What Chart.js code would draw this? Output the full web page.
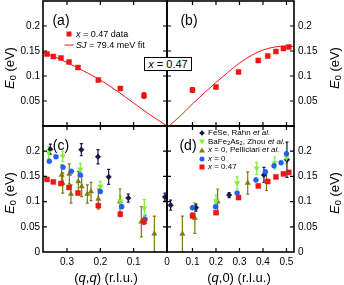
<!DOCTYPE html>
<html>
<head>
<meta charset="utf-8">
<script src="https://cdn.jsdelivr.net/npm/chart.js@4.4.0/dist/chart.umd.min.js"></script>
<style>
body { margin: 0; width: 344px; height: 285px; position: relative; overflow: hidden; background: #fff;
  font-family: "Liberation Sans", Arial, sans-serif; color: #000; }
canvas { position: absolute; }
.t { position: absolute; white-space: nowrap; line-height: 1; }
.c { transform: translate(-50%, -50%); }
.r { transform: translate(-50%, -50%) rotate(-90deg); }
.mk { position: absolute; transform: translate(-50%, -50%); }
sub { font-size: 70%; vertical-align: -0.25em; line-height: 0; }
</style>
</head>
<body>
<canvas id="pa" width="177" height="146" style="left:0;top:-10px"></canvas>
<canvas id="pb" width="187" height="146" style="left:157px;top:-10px"></canvas>
<canvas id="pc" width="177" height="169" style="left:0;top:116px"></canvas>
<canvas id="pd" width="187" height="169" style="left:157px;top:116px"></canvas>

<div class="t c" style="left:61px;top:20px;font-size:14px">(a)</div>
<div class="t c" style="left:189px;top:20px;font-size:14px">(b)</div>
<div class="t c" style="left:61px;top:145px;font-size:14px">(c)</div>
<div class="t c" style="left:188px;top:145px;font-size:14px">(d)</div>

<div class="t r" style="left:9px;top:68px;font-size:13px"><i>E</i><sub>0</sub> (eV)</div>
<div class="t r" style="left:9px;top:193px;font-size:13px"><i>E</i><sub>0</sub> (eV)</div>
<div class="t r" style="left:334px;top:68px;font-size:13px"><i>E</i><sub>0</sub> (eV)</div>
<div class="t r" style="left:334px;top:193px;font-size:13px"><i>E</i><sub>0</sub> (eV)</div>
<div class="t c" style="left:106px;top:277px;font-size:13px">(<i>q</i>,<i>q</i>) (r.l.u.)</div>
<div class="t c" style="left:239px;top:277px;font-size:13px">(<i>q</i>,0) (r.l.u.)</div>

<!-- legend (a) -->
<div class="mk" style="left:69px;top:34px;width:5px;height:5px;background:#f01414"></div>
<div class="t" style="left:76px;top:29.5px;font-size:9px"><i>x</i> = 0.47 data</div>
<div class="mk" style="left:68.5px;top:45px;width:9px;height:1px;background:#f01414"></div>
<div class="t" style="left:76px;top:40.5px;font-size:9px"><i>SJ</i> = 79.4 meV fit</div>

<!-- x = 0.47 box -->
<div class="t" style="left:144px;top:57px;width:46px;height:12px;border:1px solid #000;background:#fff;font-size:11px;text-align:center;line-height:12px"><i>x</i> = 0.47</div>

<!-- legend (d) -->
<div class="mk" style="left:202px;top:133px;width:4px;height:4px;background:#141a44;transform:translate(-50%,-50%) rotate(45deg)"></div>
<div class="t" style="left:208px;top:129px;font-size:8px">FeSe, Rahn <i>et al.</i></div>
<div class="mk" style="left:202px;top:141.5px;width:0;height:0;border-left:3px solid transparent;border-right:3px solid transparent;border-top:5px solid #7ef03a"></div>
<div class="t" style="left:208px;top:137.5px;font-size:8px">BaFe<sub>2</sub>As<sub>2</sub>, Zhou <i>et al.</i></div>
<div class="mk" style="left:202px;top:150px;width:0;height:0;border-left:3px solid transparent;border-right:3px solid transparent;border-bottom:5px solid #807a08"></div>
<div class="t" style="left:208px;top:146px;font-size:8px"><i>x</i> = 0, Pelliciari <i>et al.</i></div>
<div class="mk" style="left:202px;top:158.5px;width:5px;height:5px;border-radius:50%;background:#2060ff"></div>
<div class="t" style="left:208px;top:154.5px;font-size:8px"><i>x</i> = 0</div>
<div class="mk" style="left:202px;top:167px;width:5px;height:5px;background:#f01414"></div>
<div class="t" style="left:208px;top:163px;font-size:8px"><i>x</i> = 0.47</div>

<script>
// x = 0.47, this work
const qqX47 = [0.36, 0.341, 0.318, 0.294, 0.267, 0.206, 0.14, 0.069];
const eqqX47 = [0.144, 0.139, 0.136, 0.128, 0.117, 0.092, 0.075, 0.061];
const errqqX47 = [0.002, 0.002, 0.002, 0.002, 0.003, 0.003, 0.004, 0.006];
const q0X47 = [0.1, 0.2, 0.296, 0.38, 0.42, 0.455, 0.487, 0.51];
const e0X47 = [0.072, 0.078, 0.108, 0.131, 0.14, 0.149, 0.155, 0.158];
const err0X47 = [0.005, 0.003, 0.003, 0.003, 0.003, 0.002, 0.002, 0.002];

// x = 0
const qqX0 = [0.353, 0.333, 0.312, 0.287, 0.26, 0.2, 0.136, 0.066];
const eqqX0 = [0.18, 0.189, 0.168, 0.16, 0.153, 0.12, 0.09, 0.065];
const errqqX0 = [0.002, 0.002, 0.002, 0.002, 0.003, 0.003, 0.004, 0.008];
const q0X0 = [0.1, 0.198, 0.29, 0.37, 0.41, 0.447, 0.477, 0.5];
const e0X0 = [0.088, 0.09, 0.117, 0.143, 0.159, 0.171, 0.177, 0.195];
const err0X0 = [0.003, 0.003, 0.003, 0.003, 0.003, 0.003, 0.003, 0.004];

// FeSe, Rahn et al.
const qqFeSe = [0.35, 0.257, 0.207, 0.175, 0.116, 0.006];
const eqqFeSe = [0.204, 0.203, 0.189, 0.149, 0.107, 0.109];
const errqqFeSe = [0.01, 0.012, 0.014, 0.015, 0.008, 0.008];
const q0FeSe = [0.007, 0.115, 0.256, 0.404, 0.502];
const e0FeSe = [0.093, 0.088, 0.113, 0.153, 0.183];
const err0FeSe = [0.01, 0.007, 0.005, 0.015, 0.035];

// BaFe2As2, Zhou et al.
const qqBa = [0.355, 0.313, 0.26, 0.2, 0.14, 0.068];
const eqqBa = [0.197, 0.19, 0.164, 0.13, 0.101, 0.087];
const errqqBa = [0.012, 0.01, 0.012, 0.01, 0.01, 0.017];
const q0Ba = [0.2, 0.29, 0.373, 0.45, 0.5];
const e0Ba = [0.101, 0.137, 0.166, 0.177, 0.187];
const err0Ba = [0.012, 0.012, 0.012, 0.012, 0.012];

// x = 0, Pelliciari et al.
const qqPel = [0.316, 0.313, 0.293, 0.288, 0.266, 0.256, 0.239, 0.228, 0.206, 0.141, 0.077, 0.038];
const eqqPel = [0.153, 0.137, 0.155, 0.115, 0.14, 0.13, 0.115, 0.12, 0.105, 0.1, 0.06, 0.036];
const errqqPel = [0.02, 0.02, 0.02, 0.018, 0.02, 0.02, 0.018, 0.018, 0.02, 0.025, 0.03, 0.035];
const q0Pel = [0.057, 0.11, 0.207, 0.335, 0.415];
const e0Pel = [0.036, 0.067, 0.1, 0.137, 0.14];
const err0Pel = [0.035, 0.03, 0.025, 0.022, 0.018];

// SJ = 79.4 meV fit curves
const qqFitQ = [0, 0.05, 0.1, 0.15, 0.2, 0.25, 0.3, 0.35, 0.372];
const qqFitE = [0, 0.022, 0.046, 0.07, 0.092, 0.11, 0.127, 0.142, 0.147];
const q0FitQ = [0, 0.05, 0.1, 0.15, 0.2, 0.25, 0.3, 0.35, 0.4, 0.45, 0.5, 0.532];
const q0FitE = [0, 0.021, 0.044, 0.066, 0.087, 0.107, 0.126, 0.141, 0.152, 0.158, 0.16, 0.159];

const RED = '#f01414', BLUE = '#2060ff', NAVY = '#141a44', GREEN = '#7ef03a', OLIVE = '#807a08';

Chart.defaults.font.family = '"Liberation Sans", Arial, sans-serif';
Chart.defaults.font.size = 10;
Chart.defaults.color = '#000';

function pts(xs, ys) {
    return xs.map((v, i) => ({x: v, y: ys[i]}));
}

function marks(xs, ys, errs, color, style, radius, rot) {
    return {
        data: pts(xs, ys), errs: errs, errColor: color,
        pointStyle: style, pointRadius: radius, pointRotation: rot || 0,
        backgroundColor: color, borderColor: color, pointBorderWidth: 0.5, showLine: false
    };
}

function fitLine(xs, ys) {
    return {
        data: pts(xs, ys), showLine: true, pointRadius: 0, borderColor: RED, borderWidth: 1,
        cubicInterpolationMode: 'monotone'
    };
}

// vertical error bars, drawn under the markers
const errBars = {
    id: 'errBars',
    beforeDatasetsDraw(chart) {
        const {ctx, chartArea: a, scales: {x, y}} = chart;
        ctx.save();
        ctx.beginPath();
        ctx.rect(a.left, a.top, a.right - a.left, a.bottom - a.top);
        ctx.clip();
        chart.data.datasets.forEach(ds => {
            if (!ds.errs) return;
            ctx.strokeStyle = ds.errColor;
            ctx.lineWidth = 1.2;
            ds.data.forEach((p, i) => {
                const px = x.getPixelForValue(p.x);
                const y1 = y.getPixelForValue(p.y - ds.errs[i]);
                const y2 = y.getPixelForValue(p.y + ds.errs[i]);
                ctx.beginPath();
                ctx.moveTo(px, y1); ctx.lineTo(px, y2);
                ctx.moveTo(px - 1.5, y1); ctx.lineTo(px + 1.5, y1);
                ctx.moveTo(px - 1.5, y2); ctx.lineTo(px + 1.5, y2);
                ctx.stroke();
            });
        });
        ctx.restore();
    }
};

// box frame and inward ticks on all four sides
const frame = {
    id: 'frame',
    afterDraw(chart) {
        const {ctx, chartArea: a, scales: {x, y}} = chart;
        const seg = (x1, y1, x2, y2) => { ctx.moveTo(x1, y1); ctx.lineTo(x2, y2); };
        ctx.save();
        ctx.strokeStyle = '#000';
        ctx.lineWidth = 1.2;
        ctx.beginPath();
        x.ticks.forEach(t => {
            const px = x.getPixelForValue(t.value);
            if (px < a.left + 3 || px > a.right - 3) return;
            seg(px, a.top, px, a.top + 4);
            seg(px, a.bottom, px, a.bottom - 4);
        });
        y.ticks.forEach(t => {
            const py = y.getPixelForValue(t.value);
            if (py < a.top + 3 || py > a.bottom - 3) return;
            seg(a.left, py, a.left + 4, py);
            seg(a.right, py, a.right - 4, py);
        });
        ctx.stroke();
        ctx.lineWidth = 1.6;
        ctx.strokeRect(a.left, a.top, a.right - a.left, a.bottom - a.top);
        ctx.restore();
    }
};

function panel(id, left, bottom, datasets) {
    const xr = left ? {min: 0, max: 0.372, reverse: true} : {min: -0.0085, max: 0.532};
    new Chart(document.getElementById(id), {
        type: 'scatter',
        data: {datasets: datasets},
        options: {
            responsive: false,
            animation: false,
            devicePixelRatio: 1,
            layout: {padding: {top: bottom ? 10 : 11, bottom: bottom ? 0 : 10, left: left ? 0 : 10, right: left ? 10 : 0}},
            plugins: {legend: {display: false}, tooltip: {enabled: false}},
            scales: {
                x: Object.assign({
                    type: 'linear',
                    grid: {display: false, drawTicks: false},
                    border: {display: false},
                    ticks: {
                        display: bottom, stepSize: 0.1, includeBounds: false, autoSkip: false,
                        maxRotation: 0, padding: 4,
                        callback: v => (!left && v < 0.001) ? '' : String(+v.toFixed(1))
                    },
                    afterFit: s => { s.height = bottom ? 33 : 0; }
                }, xr),
                y: {
                    type: 'linear', position: left ? 'left' : 'right', min: 0, max: 0.25,
                    grid: {display: false, drawTicks: false},
                    border: {display: false},
                    ticks: {
                        stepSize: 0.05, autoSkip: false, padding: left ? 3 : 4,
                        callback: v => (v > 0.249 || (!bottom && v < 0.001)) ? '' : String(+v.toFixed(2))
                    },
                    afterFit: s => { s.width = left ? 43 : 50; }
                }
            }
        },
        plugins: [errBars, frame]
    });
}

panel('pa', true, false, [
    marks(qqX47, eqqX47, errqqX47, RED, 'rect', 3.5),
    fitLine(qqFitQ, qqFitE)
]);
panel('pb', false, false, [
    marks(q0X47, e0X47, err0X47, RED, 'rect', 3.5),
    fitLine(q0FitQ, q0FitE)
]);
panel('pc', true, true, [
    marks(qqX47, eqqX47, errqqX47, RED, 'rect', 3.5),
    marks(qqX0, eqqX0, errqqX0, BLUE, 'circle', 2.5),
    marks(qqBa, eqqBa, errqqBa, GREEN, 'triangle', 3, 180),
    marks(qqFeSe, eqqFeSe, errqqFeSe, NAVY, 'rectRot', 2.8),
    marks(qqPel, eqqPel, errqqPel, OLIVE, 'triangle', 3)
]);
panel('pd', false, true, [
    marks(q0X47, e0X47, err0X47, RED, 'rect', 3.5),
    marks(q0X0, e0X0, err0X0, BLUE, 'circle', 2.5),
    marks(q0Ba, e0Ba, err0Ba, GREEN, 'triangle', 3, 180),
    marks(q0FeSe, e0FeSe, err0FeSe, NAVY, 'rectRot', 2.8),
    marks(q0Pel, e0Pel, err0Pel, OLIVE, 'triangle', 3)
]);
</script>
</body>
</html>
